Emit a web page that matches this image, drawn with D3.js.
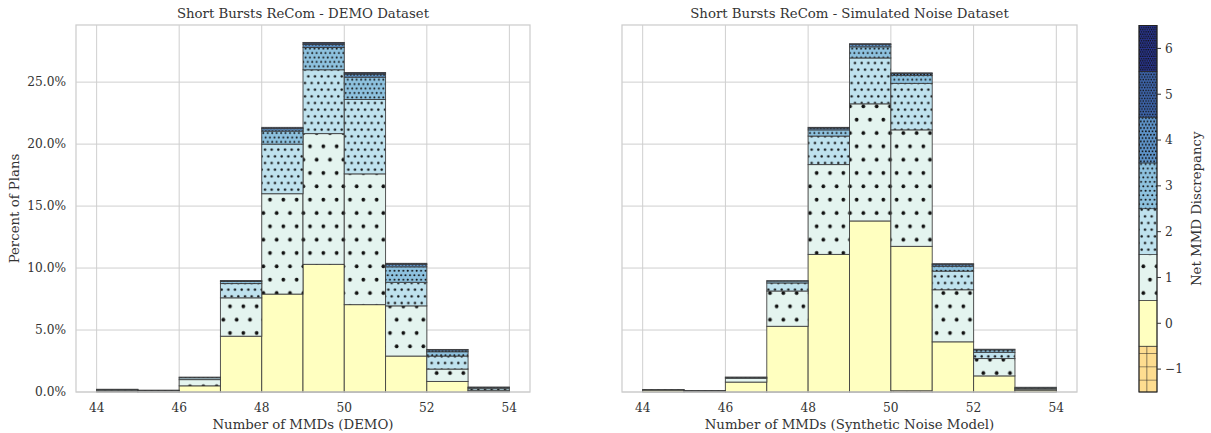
<!DOCTYPE html>
<html>
<head>
<meta charset="utf-8">
<script src="https://cdn.jsdelivr.net/npm/d3@7"></script>
<style>
  body { margin: 0; background: #fff; }
  svg { font-family: "DejaVu Serif", serif; }
</style>
</head>
<body>
<script>
// bins are [start, start + 1)
const binStarts = [44, 45, 46, 47, 48, 49, 50, 51, 52, 53];
const levels = [-1, 0, 1, 2, 3, 4, 5, 6];
const levelColors = ["#fedd90", "#ffffc0", "#e4f4ef", "#bfe2ee", "#8ec2df", "#5f94c9", "#3f67ae", "#28348c"];
const levelHatches = ["+", "", ".", "..", "...", "....", ".....", "......"];

// percent of plans, DEMO dataset, one array per net discrepancy level
const demoNeg1 = [0, 0, 0, 0, 0, 0, 0, 0, 0, 0];
const demo0 = [0.05, 0.02, 0.5, 4.5, 7.9, 10.3, 7.05, 2.9, 0.85, 0.05];
const demo1 = [0.1, 0.1, 0.5, 3.1, 8.1, 10.55, 10.55, 4.05, 1.0, 0.1];
const demo2 = [0.05, 0.03, 0.15, 1.15, 4.0, 5.15, 6.0, 1.9, 1.05, 0.15];
const demo3 = [0.02, 0, 0.05, 0.17, 1.05, 1.8, 1.8, 1.25, 0.35, 0.07];
const demo4 = [0, 0, 0, 0.05, 0.2, 0.25, 0.25, 0.2, 0.15, 0.03];
const demo5 = [0, 0, 0, 0.02, 0.1, 0.12, 0.1, 0.08, 0.03, 0];
const demo6 = [0, 0, 0, 0, 0, 0.03, 0.02, 0, 0, 0];

// percent of plans, simulated noise dataset
const noiseNeg1 = [0, 0, 0, 0, 0, 0, 0.1, 0, 0, 0];
const noise0 = [0.15, 0.05, 0.8, 5.3, 11.1, 13.8, 11.65, 4.05, 1.3, 0.15];
const noise1 = [0.03, 0.05, 0.3, 2.85, 7.25, 9.45, 9.4, 4.2, 1.4, 0.1];
const noise2 = [0.02, 0.02, 0.08, 0.65, 2.3, 3.7, 3.75, 1.5, 0.5, 0.08];
const noise3 = [0, 0, 0.02, 0.15, 0.5, 0.9, 0.65, 0.4, 0.2, 0.05];
const noise4 = [0, 0, 0, 0.03, 0.15, 0.2, 0.15, 0.15, 0.05, 0];
const noise5 = [0, 0, 0, 0, 0.05, 0.05, 0.05, 0.05, 0, 0];
const noise6 = [0, 0, 0, 0, 0, 0, 0, 0, 0, 0];

const xTicks = [44, 46, 48, 50, 52, 54];
const yTicks = [0, 5, 10, 15, 20, 25];

const W = 1211, H = 433;
const textColor = "#333";
const gridColor = "#cfcfcf";

const svg = d3.select("body").append("svg")
  .attr("width", W)
  .attr("height", H);
const defs = svg.append("defs");

// hatch patterns, anchored like matplotlib (bottom-left of the figure)
levels.forEach((lv, i) => {
  const h = levelHatches[i];
  if (!h) return;
  const pat = defs.append("pattern")
    .attr("id", "hatch" + i)
    .attr("patternUnits", "userSpaceOnUse");
  if (h === "+") {
    const s = 13.33;
    pat.attr("width", s).attr("height", s)
      .attr("y", H % s);
    pat.append("rect").attr("width", s).attr("height", s).attr("fill", levelColors[i]);
    pat.append("path")
      .attr("d", `M0,0H${s}M0,0V${s}`)
      .attr("stroke", "#222")
      .attr("stroke-width", 1.1);
  } else {
    const s = 80 / (h.length * 6);
    pat.attr("width", s).attr("height", 2 * s)
      .attr("y", H % (2 * s));
    pat.append("rect").attr("width", s).attr("height", 2 * s).attr("fill", levelColors[i]);
    const r = 0.1 * s + 0.55;
    [[0.25, 0.5], [0.75, 1.5]].forEach(p => {
      pat.append("circle")
        .attr("cx", p[0] * s)
        .attr("cy", p[1] * s)
        .attr("r", r)
        .attr("fill", "#111");
    });
  }
});

function fillFor(i) {
  return levelHatches[i] ? `url(#hatch${i})` : levelColors[i];
}

function makeTable(layers) {
  return binStarts.map((b, j) => {
    const row = {bin: b};
    layers.forEach((arr, i) => row["l" + i] = arr[j]);
    return row;
  });
}

const demoTable = makeTable([demoNeg1, demo0, demo1, demo2, demo3, demo4, demo5, demo6]);
const noiseTable = makeTable([noiseNeg1, noise0, noise1, noise2, noise3, noise4, noise5, noise6]);
const keys = levels.map((d, i) => "l" + i);
const stack = d3.stack().keys(keys);
const demoStack = stack(demoTable);
const noiseStack = stack(noiseTable);

const maxTotal = d3.max([...demoStack, ...noiseStack], s => d3.max(s, d => d[1]));

const plotTop = 25, plotBottom = 392;
const y = d3.scaleLinear()
  .domain([0, maxTotal * 1.05])
  .range([plotBottom, plotTop]);

function drawPanel(left, right, series, title, xLabel, showY) {
  const x = d3.scaleLinear().domain([43.5, 54.5]).range([left, right]);
  const g = svg.append("g");

  // grid
  g.selectAll(".gx").data(xTicks).join("line")
    .attr("x1", d => x(d)).attr("x2", d => x(d))
    .attr("y1", plotTop).attr("y2", plotBottom)
    .attr("stroke", gridColor).attr("stroke-width", 1);
  g.selectAll(".gy").data(yTicks).join("line")
    .attr("x1", left).attr("x2", right)
    .attr("y1", d => y(d)).attr("y2", d => y(d))
    .attr("stroke", gridColor).attr("stroke-width", 1);

  // stacked bars
  series.forEach((s, i) => {
    g.append("g").selectAll("rect")
      .data(s.filter(d => d[1] - d[0] > 0))
      .join("rect")
      .attr("x", d => x(d.data.bin))
      .attr("width", d => x(d.data.bin + 1) - x(d.data.bin))
      .attr("y", d => y(d[1]))
      .attr("height", d => y(d[0]) - y(d[1]))
      .attr("fill", fillFor(i))
      .attr("stroke", "#3a3a3a")
      .attr("stroke-opacity", 0.85)
      .attr("stroke-width", 1);
  });

  // frame
  g.append("rect")
    .attr("x", left).attr("y", plotTop)
    .attr("width", right - left).attr("height", plotBottom - plotTop)
    .attr("fill", "none")
    .attr("stroke", gridColor)
    .attr("stroke-width", 1.3);

  g.selectAll(".tx").data(xTicks).join("text")
    .attr("x", d => x(d))
    .attr("y", 412)
    .attr("text-anchor", "middle")
    .attr("fill", textColor)
    .style("font-size", "12.2px")
    .text(d => d);

  if (showY) {
    g.selectAll(".ty").data(yTicks).join("text")
      .attr("x", left - 10)
      .attr("y", d => y(d) + 4.3)
      .attr("text-anchor", "end")
      .attr("fill", textColor)
      .style("font-size", "12.2px")
      .text(d => d.toFixed(1) + "%");
    g.append("text")
      .attr("transform", `translate(19, ${(plotTop + plotBottom) / 2}) rotate(-90)`)
      .attr("text-anchor", "middle")
      .attr("fill", textColor)
      .style("font-size", "13.3px")
      .text("Percent of Plans");
  }

  g.append("text")
    .attr("x", (left + right) / 2)
    .attr("y", 18)
    .attr("text-anchor", "middle")
    .attr("fill", textColor)
    .style("font-size", "13.3px")
    .text(title);

  g.append("text")
    .attr("x", (left + right) / 2)
    .attr("y", 429)
    .attr("text-anchor", "middle")
    .attr("fill", textColor)
    .style("font-size", "13.3px")
    .text(xLabel);
}

drawPanel(76, 530, demoStack, "Short Bursts ReCom - DEMO Dataset", "Number of MMDs (DEMO)", true);
drawPanel(622, 1077, noiseStack, "Short Bursts ReCom - Simulated Noise Dataset", "Number of MMDs (Synthetic Noise Model)", false);

// colorbar
const cbLeft = 1139, cbRight = 1157;
const cy = d3.scaleLinear().domain([-1.5, 6.5]).range([392, 25.5]);
const cb = svg.append("g");
cb.selectAll("rect.seg").data(levels).join("rect")
  .attr("x", cbLeft)
  .attr("width", cbRight - cbLeft)
  .attr("y", d => cy(d + 0.5))
  .attr("height", d => cy(d - 0.5) - cy(d + 0.5))
  .attr("fill", (d, i) => fillFor(i))
  .attr("stroke", "#222")
  .attr("stroke-width", 0.6);
cb.append("rect")
  .attr("x", cbLeft).attr("y", cy(6.5))
  .attr("width", cbRight - cbLeft).attr("height", cy(-1.5) - cy(6.5))
  .attr("fill", "none")
  .attr("stroke", "#222")
  .attr("stroke-width", 1);
cb.selectAll("line.tk").data(levels).join("line")
  .attr("x1", cbRight).attr("x2", cbRight + 4)
  .attr("y1", d => cy(d)).attr("y2", d => cy(d))
  .attr("stroke", textColor);
cb.selectAll("text.tk").data(levels).join("text")
  .attr("x", cbRight + 8)
  .attr("y", d => cy(d) + 4.3)
  .attr("fill", textColor)
  .style("font-size", "12.2px")
  .text(d => d < 0 ? "\u2212" + Math.abs(d) : d);
cb.append("text")
  .attr("transform", `translate(1201, ${(25.5 + 392) / 2}) rotate(-90)`)
  .attr("text-anchor", "middle")
  .attr("fill", textColor)
  .style("font-size", "13.3px")
  .text("Net MMD Discrepancy");
</script>
</body>
</html>
